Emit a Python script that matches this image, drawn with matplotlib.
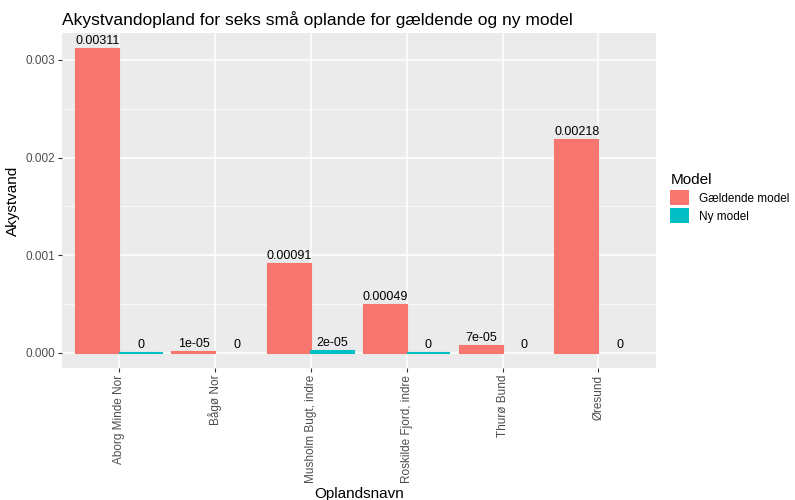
import matplotlib.pyplot as plt
import numpy as np
from matplotlib.patches import Patch

plt.rcParams["font.family"] = ["Liberation Sans", "DejaVu Sans"]

# Data
oplande = ["Aborg Minde Nor", "Bågø Nor", "Musholm Bugt, indre",
           "Roskilde Fjord, indre", "Thurø Bund", "Øresund"]
gaeldende = [0.00311, 0.00001, 0.00091, 0.00049, 0.00007, 0.00218]
ny_model = [0.000001, 0.0, 0.00002, 0.000001, 0.0, 0.0]


def label(v):
    v = round(v, 5)
    if v == 0:
        return "0"
    if v < 1e-4:
        return "%de-05" % round(v * 1e5)
    return ("%.5f" % v).rstrip("0")


col_g = "#F8766D"
col_n = "#00BFC4"

fig = plt.figure(figsize=(7.95, 5.0), dpi=100)
ax = fig.add_axes([0.078, 0.264, 0.747, 0.67])
ax.set_facecolor("#EBEBEB")

x = np.arange(1, len(oplande) + 1)
w = 0.45
for xs, vals, c in [(x - w / 2, gaeldende, col_g), (x + w / 2, ny_model, col_n)]:
    for xi, v in zip(xs, vals):
        lw = 1.5 if v > 0 else 0
        ax.bar(xi, v, width=w, color=c, edgecolor=c, linewidth=lw, zorder=3)
        ax.text(xi, v + 0.00002, label(v), ha="center", va="bottom",
                fontsize=9, color="black", zorder=4)

ax.set_xlim(0.4, 6.6)
ax.set_ylim(-0.000154, 0.003275)
ax.set_xticks(x)
ax.set_xticklabels(oplande, rotation=90, fontsize=8.5, color="#4D4D4D")
ax.set_yticks([0.0, 0.001, 0.002, 0.003])
ax.set_yticklabels(["0.000", "0.001", "0.002", "0.003"], fontsize=8.5, color="#4D4D4D")
ax.set_yticks([0.0005, 0.0015, 0.0025], minor=True)
ax.tick_params(axis="both", which="major", length=3, color="#333333", pad=2)
ax.tick_params(axis="y", which="minor", length=0)

ax.grid(True, which="major", color="white", linewidth=1.1, zorder=0)
ax.grid(True, which="minor", axis="y", color="white", linewidth=0.5, zorder=0)
ax.set_axisbelow(True)
for s in ax.spines.values():
    s.set_visible(False)

ax.set_title("Akystvandopland for seks små oplande for gældende og ny model",
             loc="left", fontsize=12.5, pad=6)
ax.set_xlabel("Oplandsnavn", fontsize=11, labelpad=3)
ax.set_ylabel("Akystvand", fontsize=11, labelpad=4)

handles = [Patch(facecolor=col_g, label="Gældende model"),
           Patch(facecolor=col_n, label="Ny model")]
leg = fig.legend(handles=handles, title="Model", loc="upper left",
                 bbox_to_anchor=(0.83, 0.675), frameon=False, fontsize=8.5,
                 title_fontsize=11, handlelength=1.6, handleheight=1.6,
                 labelspacing=0.25, handletextpad=0.8)
leg._legend_box.align = "left"

fig.savefig("out.png", dpi=100)
